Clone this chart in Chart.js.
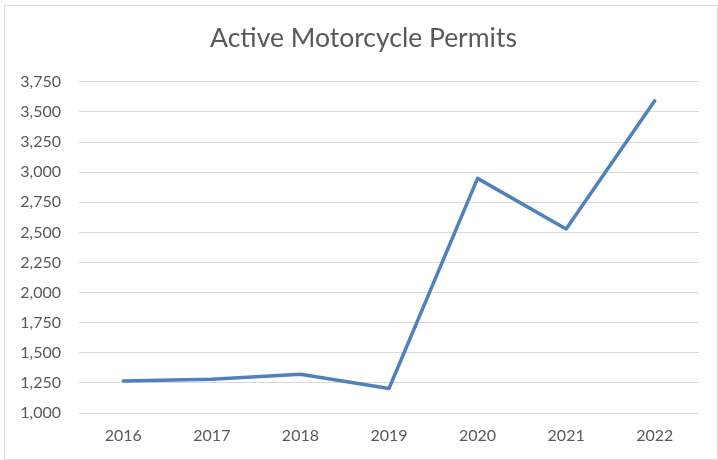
<!DOCTYPE html>
<html>
<head>
<meta charset="utf-8">
<script src="https://cdn.jsdelivr.net/npm/chart.js@4.4.1/dist/chart.umd.min.js"></script>
<style>
  html, body { margin: 0; padding: 0; background: #fff; }
  #frame {
    position: absolute; left: 4px; top: 5px;
    width: 714px; height: 455px;
    border: 1px solid #d9d9d9; box-sizing: border-box;
  }
  #wrap { position: absolute; left: 0; top: 0; width: 718px; height: 460px; }
</style>
</head>
<body>
<div id="frame"></div>
<div id="wrap"><canvas id="chart"></canvas></div>
<script>
// ===============================
// Data
// ===============================
const years = ["2016", "2017", "2018", "2019", "2020", "2021", "2022"];
const permits = [1265, 1280, 1322, 1203, 2948, 2528, 3592];
const yMin = 1000;
const yMax = 3750;
const yStep = 250;

const grey = "#595959";
const font = "Lato, 'Open Sans', sans-serif";

// ===============================
// Chart
// ===============================
new Chart(document.getElementById("chart"), {
  type: "line",
  data: {
    labels: years,
    datasets: [{
      label: "Active Motorcycle Permits",
      data: permits,
      borderColor: "#4f81bd",
      borderWidth: 3.5,
      pointRadius: 0,
      tension: 0,
      borderCapStyle: "round",
      borderJoinStyle: "round",
      fill: false
    }]
  },
  options: {
    responsive: true,
    maintainAspectRatio: false,
    animation: false,
    // left pad keeps the title centred like the original
    layout: { padding: { left: 9, right: 0, top: 0, bottom: 0 } },
    plugins: {
      legend: { display: false },
      tooltip: { enabled: false },
      title: {
        display: true,
        text: "Active Motorcycle Permits",
        color: grey,
        font: { family: font, size: 26.5, weight: "normal" },
        padding: { top: 23, bottom: 27 }
      }
    },
    scales: {
      x: {
        offset: true,
        grid: { display: false, drawTicks: false },
        border: { display: false },
        ticks: { color: grey, font: { family: font, size: 16 }, padding: 13, maxRotation: 0 },
        afterFit: s => { s.height = 47; }
      },
      y: {
        min: yMin,
        max: yMax,
        grid: { color: "#d9d9d9", lineWidth: 1, drawTicks: false },
        border: { display: false },
        ticks: {
          stepSize: yStep,
          color: grey,
          font: { family: font, size: 16 },
          padding: 18,
          callback: v => v.toLocaleString("en-US")
        },
        afterFit: s => { s.width = 70; }
      },
      // empty right margin
      yRight: {
        position: "right",
        grid: { display: false, drawTicks: false },
        border: { display: false },
        ticks: { display: false },
        afterFit: s => { s.width = 19; }
      }
    }
  }
});
</script>
</body>
</html>
